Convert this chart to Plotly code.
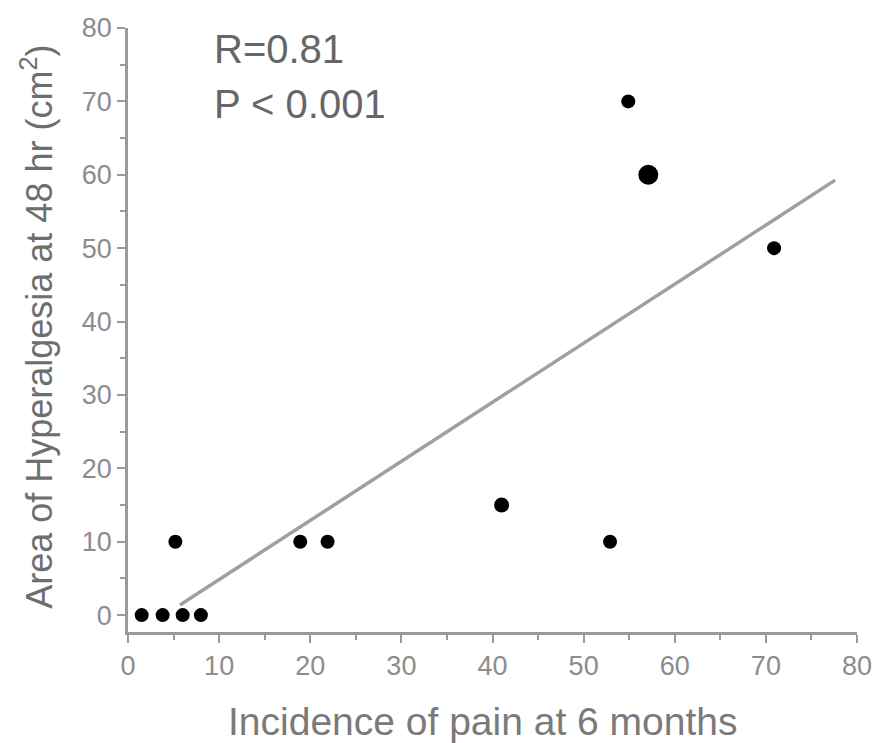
import plotly.graph_objects as go

# Incidence of chronic pain vs. area of hyperalgesia, one point per study group
pain_incidence = [1.5, 3.8, 6.0, 8.0, 5.2, 18.9, 21.9, 41.0, 52.9, 54.9, 57.1, 70.9]
hyperalgesia_area = [0, 0, 0, 0, 10, 10, 10, 15, 10, 70, 60, 50]
point_size = [14, 14, 14, 14, 14, 14, 14, 15, 14, 14, 20, 14]

# Least-squares fit line drawn across the observed range
fit_slope = 0.805
fit_intercept = -3.2
fit_x = [5.7, 77.6]
fit_y = [fit_intercept + fit_slope * x for x in fit_x]

x_ticks = [0, 10, 20, 30, 40, 50, 60, 70, 80]
y_ticks = [0, 10, 20, 30, 40, 50, 60, 70, 80]

stat_lines = ["R=0.81", "P < 0.001"]

AXIS_GREY = "#9a9a9a"
FONT_FAMILY = "Liberation Sans, Arial, sans-serif"
TICK_FONT = dict(family=FONT_FAMILY, size=27, color="#8c8c8c")

fig = go.Figure()

fig.add_trace(go.Scatter(
    x=fit_x, y=fit_y, mode="lines",
    line=dict(color="#a0a0a0", width=3.5),
    hoverinfo="skip", showlegend=False,
))

fig.add_trace(go.Scatter(
    x=pain_incidence, y=hyperalgesia_area, mode="markers",
    marker=dict(color="#000000", size=point_size, opacity=1, line=dict(width=0)),
    showlegend=False,
))

axis_style = dict(
    showgrid=False, zeroline=False, automargin=False,
    showline=True, linecolor=AXIS_GREY, linewidth=2.5,
    ticks="outside", ticklen=8, tickwidth=2, tickcolor=AXIS_GREY,
    minor=dict(dtick=5, ticks="outside", ticklen=5, tickcolor=AXIS_GREY, tickwidth=2),
    tickfont=TICK_FONT,
)
fig.update_xaxes(range=[0, 80], tickvals=x_ticks, **axis_style)
fig.update_yaxes(range=[-2.3, 80], tickvals=y_ticks, **axis_style)

annotations = [
    dict(text=stat_lines[0], x=9.2, y=77.2, xref="x", yref="y",
         xanchor="left", yanchor="middle", showarrow=False,
         font=dict(family=FONT_FAMILY, size=40, color="#666666")),
    dict(text=stat_lines[1], x=9.2, y=69.6, xref="x", yref="y",
         xanchor="left", yanchor="middle", showarrow=False,
         font=dict(family=FONT_FAMILY, size=40, color="#666666")),
    dict(text="Incidence of pain at 6 months", x=0.487, y=-0.149,
         xref="paper", yref="paper", xanchor="center", yanchor="middle",
         showarrow=False,
         font=dict(family=FONT_FAMILY, size=39, color="#7a7a7a")),
    dict(text="Area of Hyperalgesia at 48 hr (cm<sup>2</sup>)", x=-0.125, y=0.505,
         xref="paper", yref="paper", xanchor="center", yanchor="middle",
         textangle=-90, showarrow=False,
         font=dict(family=FONT_FAMILY, size=36, color="#6e6e6e")),
]

fig.update_layout(
    width=875, height=743,
    margin=dict(l=128, r=18, t=28, b=111),
    paper_bgcolor="white", plot_bgcolor="white",
    annotations=annotations,
)

fig.write_html("out.html")
